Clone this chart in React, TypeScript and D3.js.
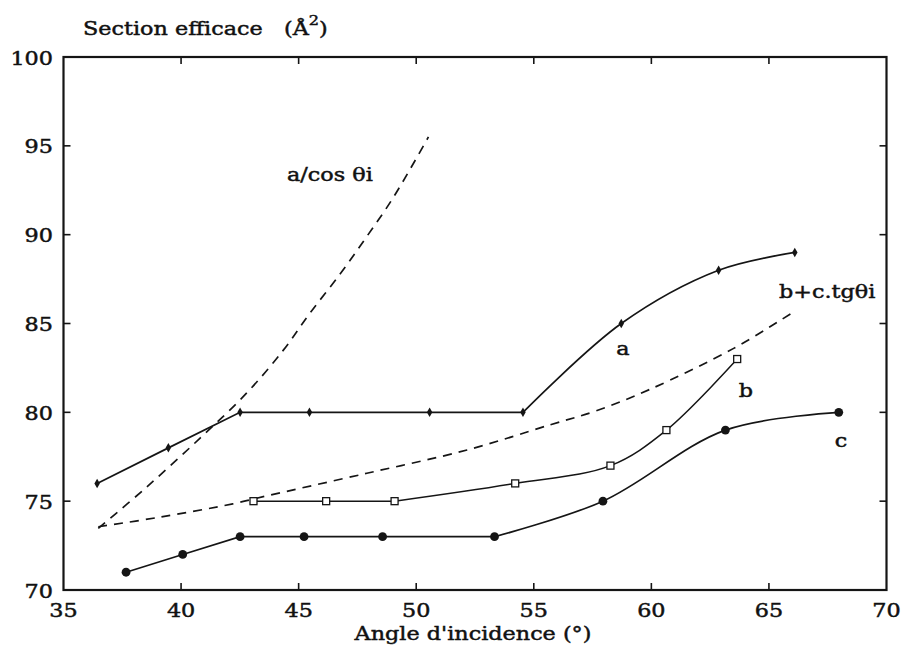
import React from "react";
import * as d3 from "d3";

// ---- data ----
const xTicks = [35, 40, 45, 50, 55, 60, 65, 70];
const yTicks = [70, 75, 80, 85, 90, 95, 100];

const seriesAX = [36.43, 39.46, 42.51, 45.46, 50.57, 54.54, 58.72, 62.86, 66.1];
const seriesAY = [76, 78, 80, 80, 80, 80, 85, 88, 89];
const seriesABreak = 5; // last point of the straight part

const seriesBX = [43.08, 46.17, 49.08, 54.21, 58.26, 60.64, 63.65];
const seriesBY = [75, 75, 75, 76, 77, 79, 83];
const seriesBBreak = 2;

const seriesCX = [37.66, 40.07, 42.51, 45.23, 48.57, 53.33, 57.94, 63.15, 67.97];
const seriesCY = [71, 72, 73, 73, 73, 73, 75, 79, 80];
const seriesCBreak = 5;

const cosCurveX = [36.48, 38.5, 40.81, 42.8, 44.35, 45.49, 46.77, 47.9, 49.03, 50.52];
const cosCurveY = [73.47, 75.75, 78.55, 81.1, 83.5, 85.6, 87.8, 89.9, 92.1, 95.5];

const tanCurveX = [36.48, 39.1, 42.2, 43.65, 47.9, 52.16, 55.7, 57.69, 59.95, 63.5, 66.13];
const tanCurveY = [73.56, 74.1, 74.85, 75.3, 76.57, 77.88, 79.3, 80.1, 81.3, 83.6, 85.72];

const FONT = "'DejaVu Serif', serif";
const SX = 1.24;
const ink = "#151515";

function T({ x, y, anchor = "start", size = 18, children }: any) {
  return (
    <text
      transform={`translate(${x},${y}) scale(${SX},1)`}
      textAnchor={anchor}
      fontFamily={FONT}
      fontSize={size}
      fill="#111"
      stroke="#111"
      strokeWidth={0.45}
    >
      {children}
    </text>
  );
}

export default function App() {
  const W = 912, H = 657;
  const x = d3.scaleLinear().domain([35, 70]).range([63.5, 886.5]);
  const y = d3.scaleLinear().domain([70, 100]).range([590, 57]);

  const zip = (xs: number[], ys: number[]) => xs.map((v, i) => [v, ys[i]] as [number, number]);
  const straight = d3
    .line<[number, number]>()
    .x((d) => x(d[0]))
    .y((d) => y(d[1]));
  const smooth = d3
    .line<[number, number]>()
    .x((d) => x(d[0]))
    .y((d) => y(d[1]))
    .curve(d3.curveCatmullRom.alpha(0.5));

  const A = zip(seriesAX, seriesAY);
  const B = zip(seriesBX, seriesBY);
  const C = zip(seriesCX, seriesCY);
  const cosC = zip(cosCurveX, cosCurveY);
  const tanC = zip(tanCurveX, tanCurveY);

  const seriesPath = (pts: [number, number][], k: number) =>
    (straight(pts.slice(0, k + 1)) || "") + (smooth(pts.slice(k)) || "");

  const [x0, x1] = x.range();
  const [y0, y1] = y.range();
  const tickLen = 7;

  return (
    <svg
      width={W}
      height={H}
      style={{ position: "absolute", left: 0, top: 0, background: "#fff" }}
    >
      <rect width={W} height={H} fill="#fff" />

      {/* ticks */}
      {xTicks.slice(1, -1).map((t) => (
        <g key={"xt" + t}>
          <line x1={x(t)} x2={x(t)} y1={y0} y2={y0 - tickLen} stroke={ink} strokeWidth={1.6} />
          <line x1={x(t)} x2={x(t)} y1={y1} y2={y1 + tickLen} stroke={ink} strokeWidth={1.6} />
        </g>
      ))}
      {yTicks.slice(1, -1).map((t) => (
        <g key={"yt" + t}>
          <line x1={x0} x2={x0 + tickLen} y1={y(t)} y2={y(t)} stroke={ink} strokeWidth={1.6} />
          <line x1={x1} x2={x1 - tickLen} y1={y(t)} y2={y(t)} stroke={ink} strokeWidth={1.6} />
        </g>
      ))}

      {/* frame */}
      <rect x={x0} y={y1} width={x1 - x0} height={y0 - y1} fill="none" stroke={ink} strokeWidth={2.2} />

      {/* tick labels */}
      {xTicks.map((t) => (
        <T key={"xl" + t} x={x(t)} y={617} anchor="middle">
          {t}
        </T>
      ))}
      {yTicks.map((t) => (
        <T key={"yl" + t} x={53} y={y(t) + 7.5} anchor="end">
          {t}
        </T>
      ))}

      {/* dashed model curves */}
      <path d={smooth(cosC) || ""} fill="none" stroke={ink} strokeWidth={1.7} strokeDasharray="9,7" />
      <path d={smooth(tanC) || ""} fill="none" stroke={ink} strokeWidth={1.7} strokeDasharray="9,7" />

      {/* solid series */}
      <path d={seriesPath(A, seriesABreak)} fill="none" stroke={ink} strokeWidth={1.7} />
      <path d={seriesPath(B, seriesBBreak)} fill="none" stroke={ink} strokeWidth={1.5} />
      <path d={seriesPath(C, seriesCBreak)} fill="none" stroke={ink} strokeWidth={1.7} />

      {/* markers */}
      {A.map((d, i) => (
        <path
          key={"ma" + i}
          d={d3.symbol(d3.symbolDiamond, 26)() || ""}
          transform={`translate(${x(d[0])},${y(d[1])})`}
          fill={ink}
        />
      ))}
      {B.map((d, i) => (
        <rect
          key={"mb" + i}
          x={x(d[0]) - 3.5}
          y={y(d[1]) - 3.5}
          width={7}
          height={7}
          fill="#fff"
          stroke={ink}
          strokeWidth={1.3}
        />
      ))}
      {C.map((d, i) => (
        <circle key={"mc" + i} cx={x(d[0])} cy={y(d[1])} r={4.4} fill={ink} />
      ))}

      {/* annotations */}
      <T x={287} y={181}>a/cos θi</T>
      <T x={779} y={298}>b+c.tgθi</T>
      <T x={623} y={355} anchor="middle">a</T>
      <T x={746} y={397} anchor="middle">b</T>
      <T x={841} y={447} anchor="middle">c</T>

      {/* axis titles */}
      <text
        transform={`translate(83,35) scale(${SX},1)`}
        fontFamily={FONT}
        fontSize={18}
        fill="#111"
        stroke="#111"
        strokeWidth={0.45}
      >
        Section efficace{"\u00A0\u00A0\u00A0"}(Å
        <tspan fontSize={13} dy={-10}>2</tspan>
        <tspan dy={10}>)</tspan>
      </text>
      <T x={473} y={640} anchor="middle">Angle d'incidence (°)</T>
    </svg>
  );
}
